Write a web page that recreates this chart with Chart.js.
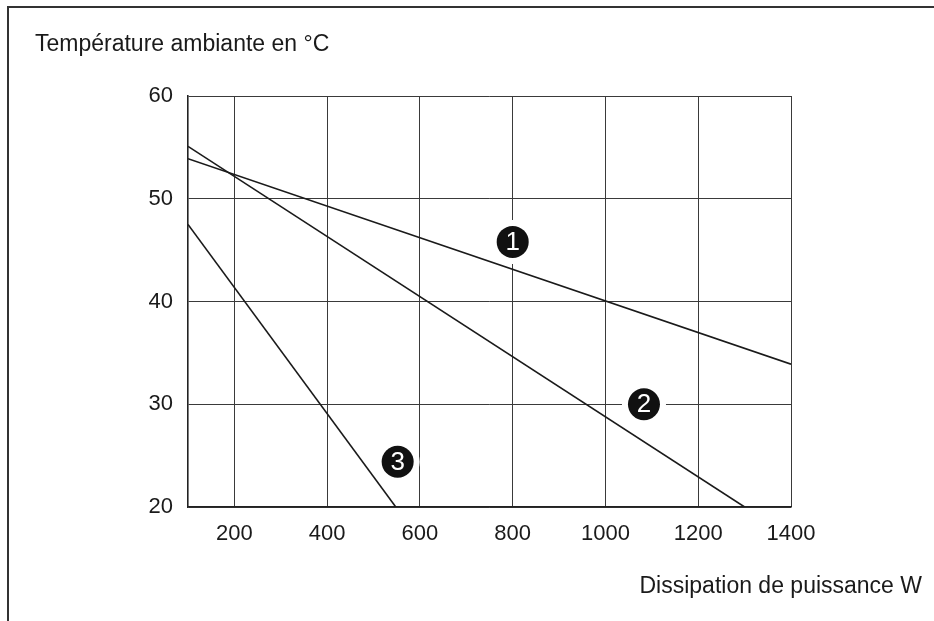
<!DOCTYPE html>
<html>
<head>
<meta charset="utf-8">
<script src="https://cdn.jsdelivr.net/npm/chart.js@4/dist/chart.umd.min.js"></script>
<style>
  body { margin: 0; background: #fff; }
  #wrap { width: 934px; height: 621px; }
</style>
</head>
<body>
<div id="wrap"><canvas id="chart" width="934" height="621"></canvas></div>
<script>
// échelles
const xTicks = [200, 400, 600, 800, 1000, 1200, 1400];
const yTicks = [20, 30, 40, 50, 60];

// courbes (W, °C)
const courbe1 = [{ x: 100, y: 53.9 }, { x: 1400, y: 33.9 }];
const courbe2 = [{ x: 100, y: 55.1 }, { x: 1300, y: 20 }];
const courbe3 = [{ x: 100, y: 47.5 }, { x: 548, y: 20 }];

// repères numérotés
const reperes = ["1", "2", "3"];
const reperesX = [800, 1083, 552];
const reperesY = [45.8, 30, 24.4];

const FONT = "'Liberation Sans', Arial, sans-serif";
const INK = "#1a1a1a";

const decor = {
  id: "decor",
  afterDraw(chart) {
    const ctx = chart.ctx;
    const xs = chart.scales.x, ys = chart.scales.y;
    ctx.save();
    // cadre
    ctx.strokeStyle = "#333";
    ctx.lineWidth = 2;
    ctx.beginPath();
    ctx.moveTo(934, 7);
    ctx.lineTo(8, 7);
    ctx.lineTo(8, 621);
    ctx.stroke();

    // titres
    ctx.fillStyle = INK;
    ctx.font = "23px " + FONT;
    ctx.textBaseline = "middle";
    ctx.textAlign = "left";
    ctx.fillText("Température ambiante en °C", 35, 45);
    ctx.textAlign = "right";
    ctx.fillText("Dissipation de puissance W", 922, 587);

    // repères
    reperes.forEach((r, i) => {
      const px = xs.getPixelForValue(reperesX[i]);
      const py = ys.getPixelForValue(reperesY[i]);
      ctx.fillStyle = "#fff";
      ctx.beginPath();
      ctx.arc(px, py, 22, 0, Math.PI * 2);
      ctx.fill();
      ctx.fillStyle = "#111";
      ctx.beginPath();
      ctx.arc(px, py, 16, 0, Math.PI * 2);
      ctx.fill();
      ctx.fillStyle = "#fff";
      ctx.font = "26px " + FONT;
      ctx.textAlign = "center";
      ctx.textBaseline = "middle";
      ctx.fillText(r, px, py + 1);
    });
    ctx.restore();
  }
};

const serie = (data) => ({
  data,
  borderColor: INK,
  borderWidth: 1.6,
  pointRadius: 0,
  fill: false,
  tension: 0
});

new Chart(document.getElementById("chart"), {
  type: "line",
  data: { datasets: [serie(courbe1), serie(courbe2), serie(courbe3)] },
  options: {
    responsive: false,
    animation: false,
    layout: { padding: { left: 0, top: 96, right: 143, bottom: 0 } },
    plugins: { legend: { display: false }, tooltip: { enabled: false } },
    scales: {
      x: {
        type: "linear",
        min: 100,
        max: 1400,
        afterFit: (s) => { s.height = 114; },
        afterBuildTicks: (s) => { s.ticks = xTicks.map(v => ({ value: v })); },
        grid: { color: "#3a3a3a", lineWidth: 1, drawTicks: false },
        border: { display: true, color: "#222", width: 1.6 },
        ticks: {
          color: INK, font: { family: FONT, size: 22 }, padding: 14, maxRotation: 0,
          callback: (v) => String(v)
        }
      },
      y: {
        min: 20,
        max: 60,
        afterFit: (s) => { s.width = 188; },
        afterBuildTicks: (s) => { s.ticks = yTicks.map(v => ({ value: v })); },
        grid: { color: "#3a3a3a", lineWidth: 1, drawTicks: false },
        border: { display: true, color: "#222", width: 1.6 },
        ticks: { color: INK, font: { family: FONT, size: 22 }, padding: 15, callback: (v) => String(v) }
      }
    }
  },
  plugins: [decor]
});
</script>
</body>
</html>
